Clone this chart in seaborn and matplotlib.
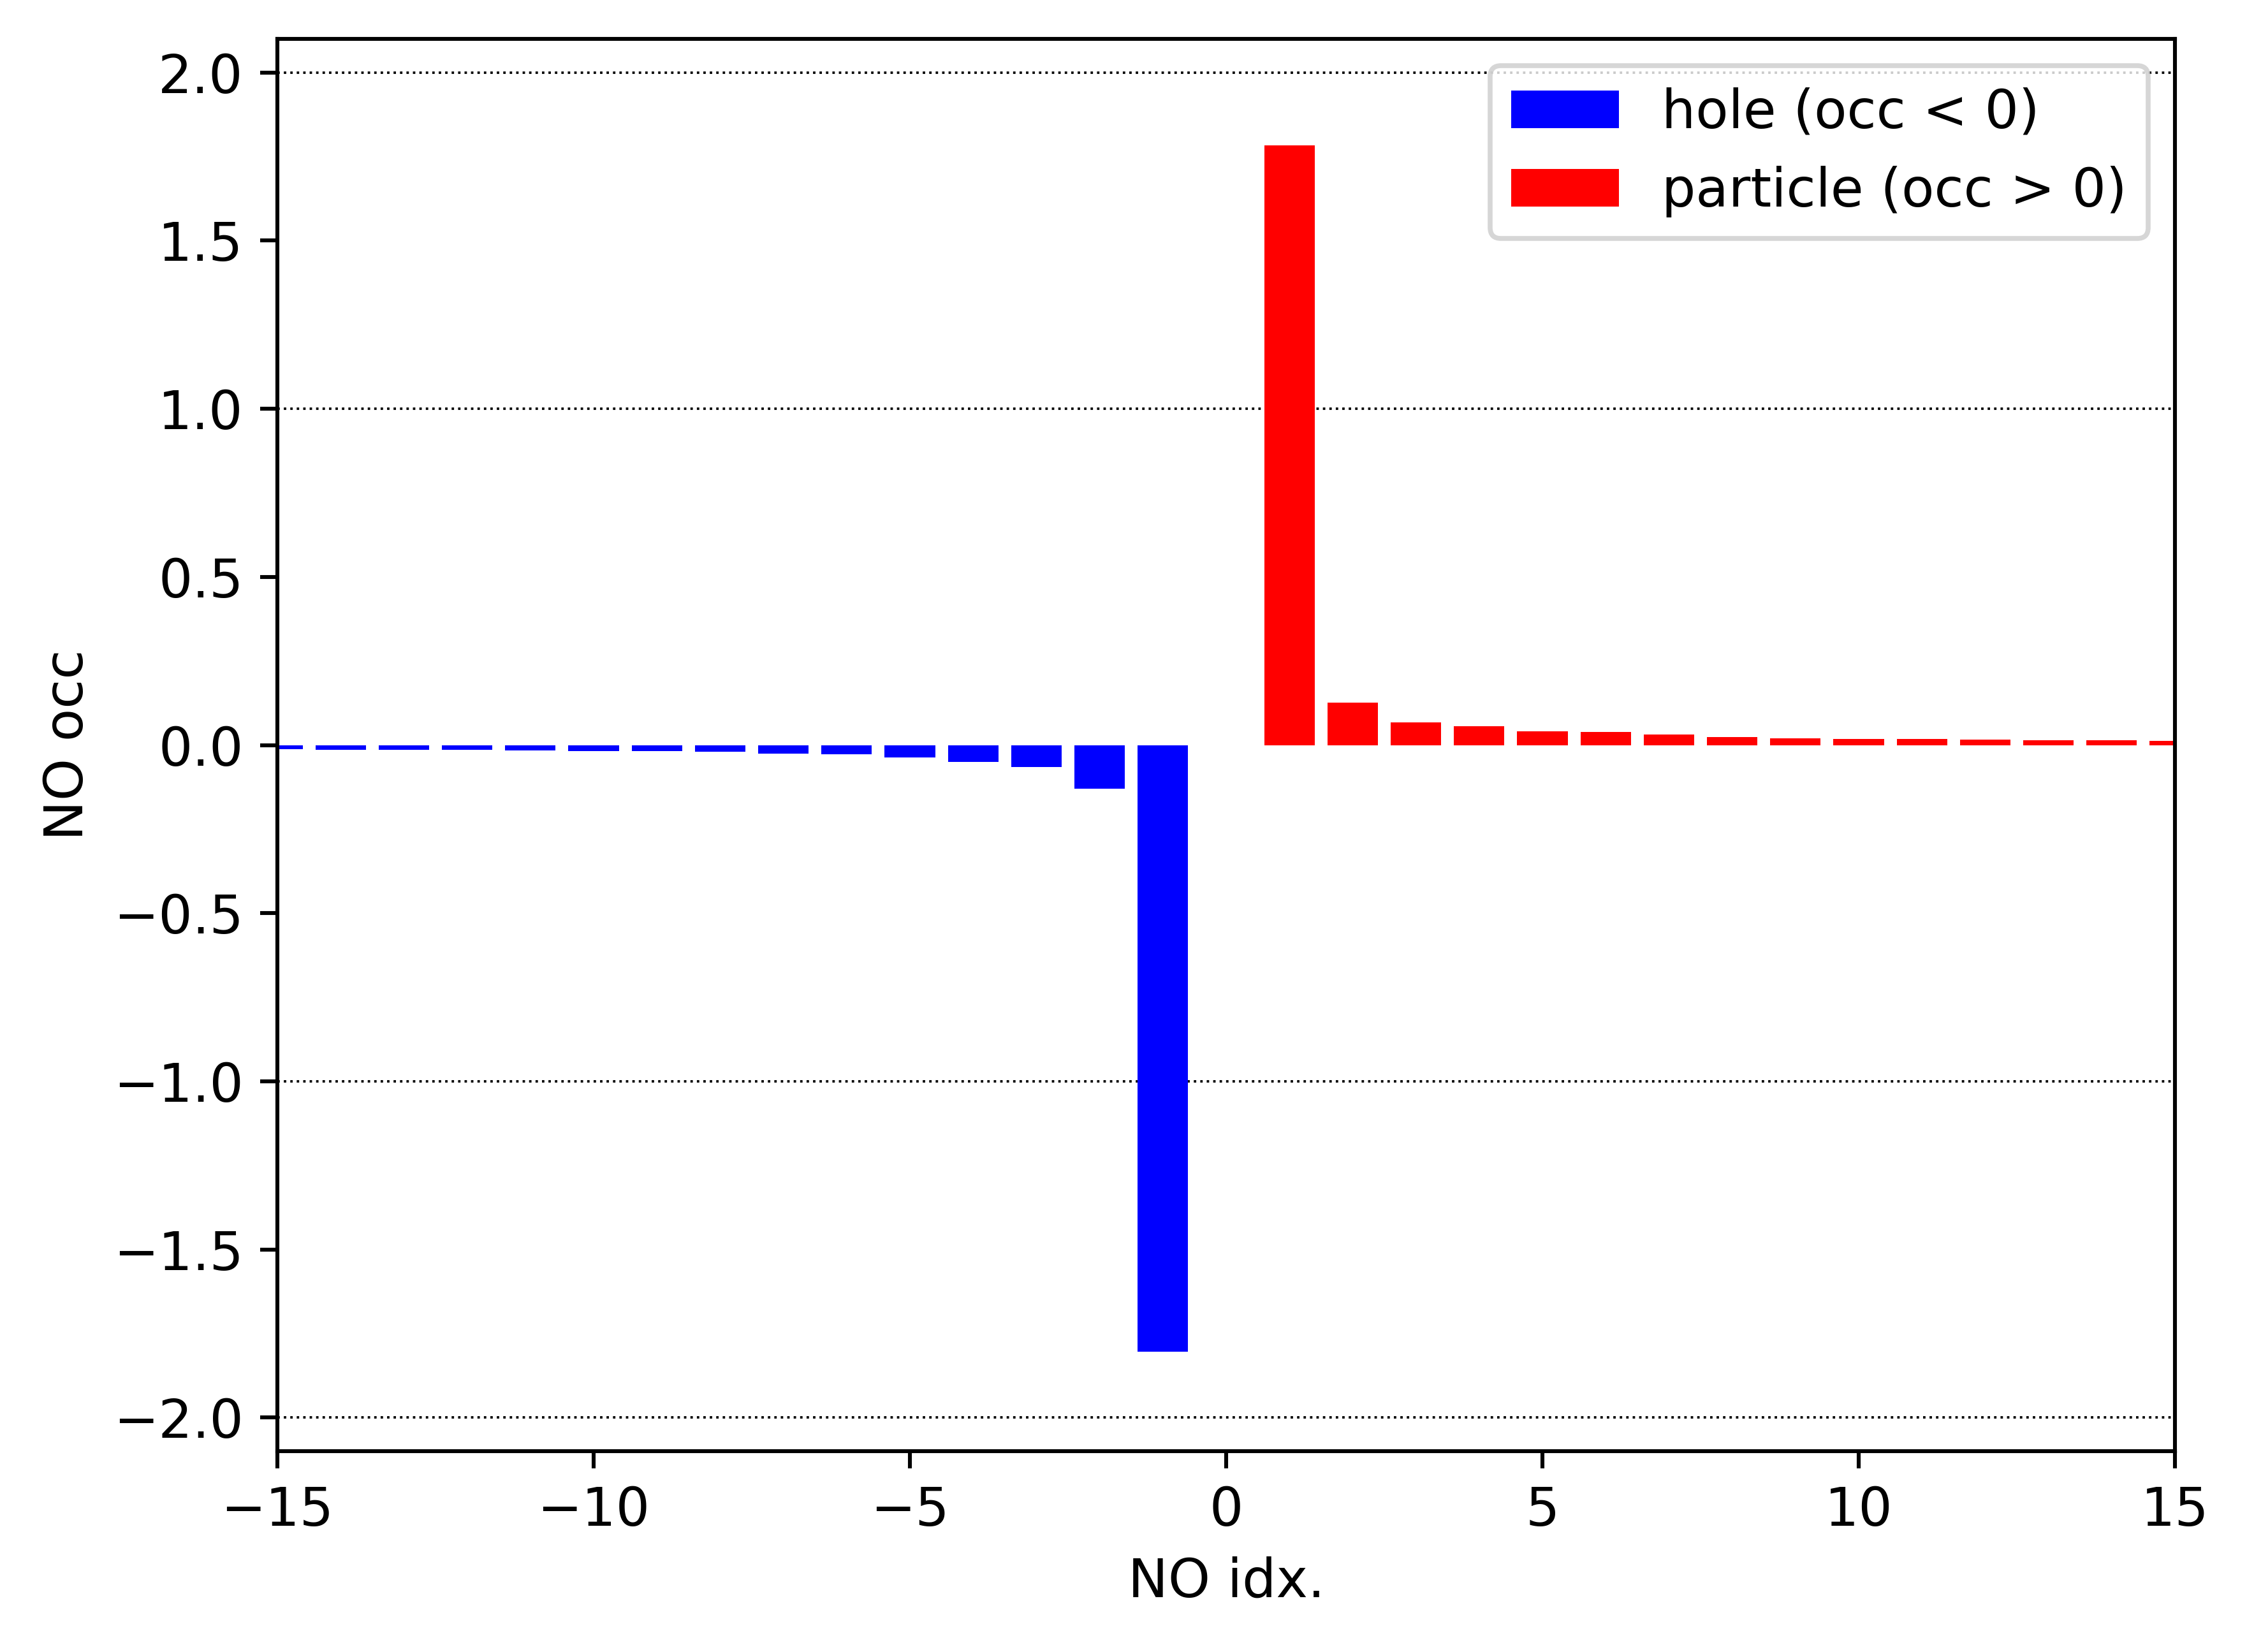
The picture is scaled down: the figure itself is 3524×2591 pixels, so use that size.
import matplotlib
matplotlib.use("Agg")
import matplotlib.pyplot as plt
import seaborn as sns
import pandas as pd

hole_idx = [-15, -14, -13, -12, -11, -10, -9, -8, -7, -6, -5, -4, -3, -2, -1]
hole_occ = [-0.0126, -0.0145, -0.0145, -0.0145, -0.0164, -0.0183, -0.0183, -0.0202,
            -0.0259, -0.0278, -0.0373, -0.0505, -0.0657, -0.130, -1.804]
particle_idx = [1, 2, 3, 4, 5, 6, 7, 8, 9, 10, 11, 12, 13, 14, 15]
particle_occ = [1.784, 0.126, 0.0676, 0.0562, 0.041, 0.039, 0.0316, 0.024, 0.020,
                0.018, 0.018, 0.0164, 0.0145, 0.0145, 0.0126]
hole_label = "hole (occ < 0)"
particle_label = "particle (occ > 0)"

df = pd.DataFrame({
    "idx": hole_idx + particle_idx,
    "occ": hole_occ + particle_occ,
    "kind": [hole_label] * len(hole_idx) + [particle_label] * len(particle_idx),
})

plt.rcParams["font.size"] = 11

dpi = 550
fig = plt.figure(figsize=(3524 / dpi, 2591 / dpi), dpi=dpi)
ax = fig.add_axes([435 / 3524, 1 - 2276 / 2591, (3411 - 435) / 3524, (2276 - 61) / 2591])

sns.barplot(data=df, x="idx", y="occ", hue="kind",
            hue_order=[hole_label, particle_label],
            palette={hole_label: "blue", particle_label: "red"},
            native_scale=True, dodge=False, width=0.8, saturation=1,
            errorbar=None, ax=ax)

for yv in [-2, -1, 1, 2]:
    ax.axhline(yv, color="black", ls=":", lw=0.5, zorder=0.5)

ax.set_xlim(-15, 15)
ax.set_ylim(-2.1, 2.1)
ax.set_xticks([-15, -10, -5, 0, 5, 10, 15])
ax.set_yticks([-2.0, -1.5, -1.0, -0.5, 0.0, 0.5, 1.0, 1.5, 2.0])
ax.set_xlabel("NO idx.")
ax.set_ylabel("NO occ")

handles, labels = ax.get_legend_handles_labels()
ax.legend(handles, labels, loc="upper right")

fig.savefig("out.png", dpi=dpi)
